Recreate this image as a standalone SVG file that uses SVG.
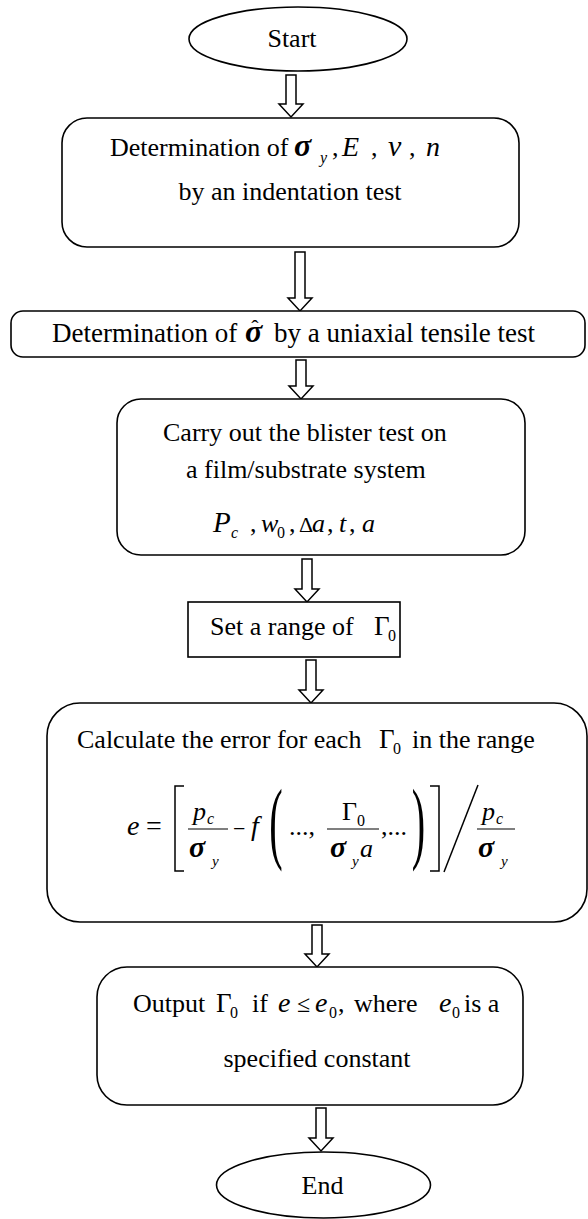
<svg xmlns="http://www.w3.org/2000/svg" width="588" height="1219" viewBox="0 0 588 1219">
<style>
.n{fill:#fff;stroke:#000;stroke-width:1.6}
.ar{fill:#fff;stroke:#000;stroke-width:1.5;stroke-linejoin:miter}
.t{font-family:"Liberation Serif","Times New Roman","DejaVu Serif",serif;fill:#000}
.i{font-style:italic}
.b{font-style:italic;font-weight:bold}
.fl{stroke:#000;stroke-width:1.2;fill:none}
.dl{stroke:#000;stroke-width:1.5;fill:none}
</style>
<rect width="588" height="1219" fill="#fff"/>
<g id="connectors">
<polygon class="ar" points="286,75 296,75 296,104 303,104 291,117 279,104 286,104"/>
<polygon class="ar" points="295,252 305,252 305,298 312,298 300,311 288,298 295,298"/>
<polygon class="ar" points="296,360 306,360 306,386 313,386 301,399 289,386 296,386"/>
<polygon class="ar" points="302,559 312,559 312,589 319,589 307,602 295,589 302,589"/>
<polygon class="ar" points="306,660 316,660 316,690 323,690 311,703 299,690 306,690"/>
<polygon class="ar" points="312,925 322,925 322,954 329,954 317,967 305,954 312,954"/>
<polygon class="ar" points="316,1108 326,1108 326,1138 333,1138 321,1151 309,1138 316,1138"/>
</g>
<g class="t" font-family="Liberation Serif, Times New Roman, serif" font-size="26">
<g id="start">
<ellipse class="n" cx="298" cy="39" rx="109" ry="32"/>
<text x="292" y="47" text-anchor="middle">Start</text>
</g>
<g id="indent">
<rect class="n" x="62" y="118" width="457" height="129" rx="25"/>
<text x="110" y="156">Determination of</text>
<text class="b" x="294" y="156" font-size="32">σ</text>
<text class="i" x="320" y="163" font-size="16">y</text>
<text x="332" y="156">,</text>
<text class="i" x="342" y="156" font-size="28">E</text>
<text x="371" y="156">,</text>
<text class="i" x="388" y="156" font-size="30">ν</text>
<text x="409" y="156">,</text>
<text class="i" x="426" y="156" font-size="28">n</text>
<text x="290" y="200" text-anchor="middle">by an indentation test</text>
</g>
<g id="tensile">
<rect class="n" x="11" y="311" width="574" height="46" rx="12"/>
<text x="52" y="342" font-size="27">Determination of</text>
<text class="b" x="245" y="342" font-size="32">σ<tspan font-style="normal" font-weight="normal" font-size="22" dx="-11" dy="-7">ˆ</tspan></text>
<text x="274" y="342" font-size="27">by a uniaxial tensile test</text>
</g>
<g id="blister">
<rect class="n" x="117" y="399" width="408" height="156" rx="24"/>
<text x="163" y="441">Carry out the blister test on</text>
<text x="186" y="478">a film/substrate system</text>
<text class="i" x="213" y="532" font-size="29">P</text>
<text class="i" x="231" y="538" font-size="16">c</text>
<text x="250" y="532">,</text>
<text class="i" x="261" y="532">w</text>
<text x="277" y="538" font-size="16">0</text>
<text x="289" y="532">,</text>
<text x="299" y="532" font-size="22">Δ</text>
<text class="i" x="312" y="532">a</text>
<text x="327" y="532">,</text>
<text class="i" x="339" y="532">t</text>
<text x="349" y="532">,</text>
<text class="i" x="362" y="532">a</text>
</g>
<g id="range">
<rect class="n" x="188" y="602" width="212" height="55"/>
<text x="210" y="635">Set a range of</text>
<text x="374" y="635" font-size="27">Γ</text>
<text x="388" y="641" font-size="16">0</text>
</g>
<g id="calc">
<rect class="n" x="47" y="703" width="540" height="219" rx="33"/>
<text x="77" y="748">Calculate the error for each</text>
<text x="379" y="748" font-size="27">Γ</text>
<text x="393" y="754" font-size="16">0</text>
<text x="412" y="748">in the range</text>
<text class="i" x="127" y="835" font-size="28">e</text>
<text x="146" y="835" font-size="28">=</text>
<polyline class="dl" points="184,786 175,786 175,871 184,871"/>
<line class="fl" x1="188" y1="829" x2="228" y2="829"/>
<text class="i" x="193" y="820">p</text>
<text class="i" x="207" y="824" font-size="16">c</text>
<text class="b" x="189" y="857" font-size="30">σ</text>
<text class="i" x="212" y="866" font-size="15">y</text>
<text x="233" y="836" font-size="22">−</text>
<text class="i" x="251" y="835" font-size="28">f</text>
<text x="-1.2" y="0" font-size="26" transform="translate(271,851.8) scale(1.55,3.51)">(</text>
<text x="289" y="835">...,</text>
<line class="fl" x1="327" y1="829" x2="379" y2="829"/>
<text x="342" y="820">Γ</text>
<text x="357" y="826" font-size="16">0</text>
<text class="b" x="330" y="857" font-size="30">σ</text>
<text class="i" x="352" y="866" font-size="15">y</text>
<text class="i" x="360" y="857">a</text>
<text x="381" y="835">,...</text>
<text x="-0.8" y="0" font-size="26" transform="translate(413,851.8) scale(1.55,3.51)">)</text>
<polyline class="dl" points="430,786 439,786 439,871 430,871"/>
<line class="dl" x1="444" y1="872" x2="478" y2="785"/>
<line class="fl" x1="477" y1="829" x2="515" y2="829"/>
<text class="i" x="482" y="820">p</text>
<text class="i" x="496" y="824" font-size="16">c</text>
<text class="b" x="478" y="857" font-size="30">σ</text>
<text class="i" x="501" y="866" font-size="15">y</text>
</g>
<g id="output">
<rect class="n" x="97" y="967" width="426" height="138" rx="30"/>
<text x="133" y="1012">Output</text>
<text x="216" y="1012" font-size="27">Γ</text>
<text x="230" y="1018" font-size="16">0</text>
<text x="252" y="1012">if</text>
<text class="i" x="278" y="1012" font-size="28">e</text>
<text x="297" y="1012" font-size="24">≤</text>
<text class="i" x="315" y="1012" font-size="28">e</text>
<text x="329" y="1018" font-size="16">0</text>
<text x="338" y="1012">,</text>
<text x="354" y="1012">where</text>
<text class="i" x="439" y="1012" font-size="28">e</text>
<text x="452" y="1018" font-size="16">0</text>
<text x="464" y="1012">is a</text>
<text x="317" y="1067" text-anchor="middle">specified constant</text>
</g>
<g id="end">
<ellipse class="n" cx="323.5" cy="1185" rx="107" ry="33"/>
<text x="322.5" y="1194" text-anchor="middle">End</text>
</g>
</g>
</svg>
